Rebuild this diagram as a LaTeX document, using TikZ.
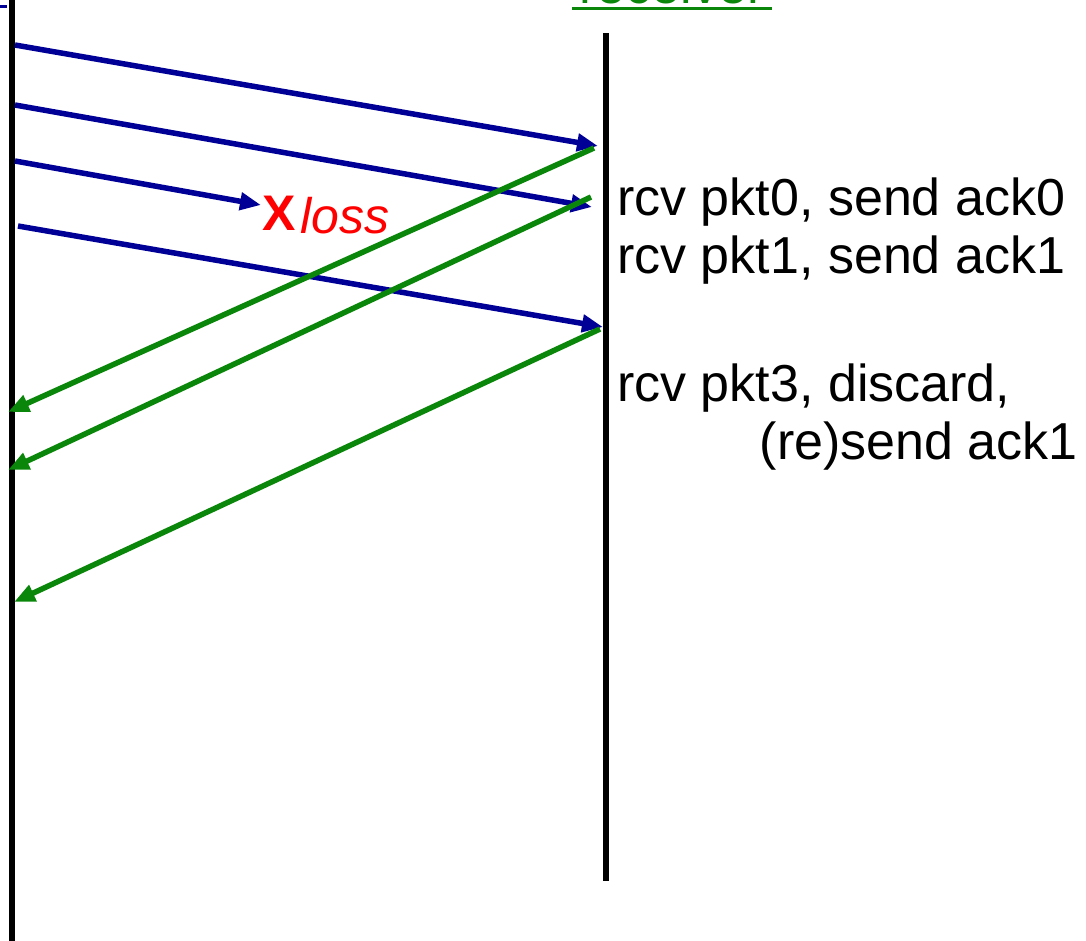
\documentclass[tikz,border=0pt]{standalone}
\usepackage{fontspec}
\setmainfont{Liberation Sans}
\usetikzlibrary{arrows.meta}
\definecolor{pktblue}{RGB}{0,0,150}
\definecolor{ackgreen}{RGB}{10,135,10}
\definecolor{lossred}{RGB}{255,0,0}
\begin{document}
\begin{tikzpicture}[x=1pt,y=-1pt,
  lifeline/.style={line width=5.5pt,black},
  pktmsg/.style={line width=5.5pt,pktblue,-{Triangle[length=21pt,width=17pt]}},
  ackmsg/.style={line width=5.5pt,ackgreen,-{Triangle[length=21pt,width=17pt]}},
  evtext/.style={anchor=base west,inner sep=0pt,font=\fontsize{52}{58}\selectfont},
  losstext/.style={anchor=base west,inner sep=0pt,text=lossred,font=\fontsize{50}{56}\selectfont}]
\useasboundingbox (0,0) rectangle (1086,940);

% lifelines
\coordinate (sTop) at (12,-5);
\coordinate (sBot) at (12,945);
\coordinate (rTop) at (606,33);
\coordinate (rBot) at (606,881);
\draw[lifeline] (sTop) -- (sBot);
\draw[lifeline] (rTop) -- (rBot);

% headings (mostly above the visible area)
\coordinate (sUl) at (-40,6);
\coordinate (sUr) at (7,6);
\draw[pktblue,line width=3pt] (sUl) -- (sUr);
\node[anchor=base,inner sep=0pt,text=ackgreen,font=\fontsize{52}{58}\selectfont] (recv) at (672,3) {receiver};
\coordinate (rUl) at (572,8);
\coordinate (rUr) at (772,8);
\draw[ackgreen,line width=3pt] (rUl) -- (rUr);

% packets sent
\coordinate (p0s) at (15,45);
\coordinate (p0r) at (598,146);
\coordinate (p1s) at (15,105);
\coordinate (p1r) at (592,207);
\coordinate (p2s) at (15,161);
\coordinate (p2x) at (261,205);
\coordinate (p3s) at (18,226);
\coordinate (p3r) at (603,327);
\draw[pktmsg] (p0s) -- (p0r);
\draw[pktmsg] (p1s) -- (p1r);
\draw[pktmsg] (p2s) -- (p2x);
\draw[pktmsg] (p3s) -- (p3r);

% acks returned
\coordinate (a0r) at (594,148);
\coordinate (a0s) at (8,412);
\coordinate (a1r) at (591,197);
\coordinate (a1s) at (8,470);
\coordinate (a2r) at (600,329);
\coordinate (a2s) at (14,602);
\draw[ackmsg] (a0r) -- (a0s);
\draw[ackmsg] (a1r) -- (a1s);
\draw[ackmsg] (a2r) -- (a2s);

% loss marker
\node[losstext,font=\fontsize{50}{56}\selectfont\bfseries] (lossx) at (262,230) {X};
\node[losstext] (loss) at (300,233) {\itshape loss};

% receiver events
\node[evtext] (ev0) at (617,215) {rcv pkt0, send ack0};
\node[evtext] (ev1) at (617,273) {rcv pkt1, send ack1};
\node[evtext] (ev3) at (617,401) {rcv pkt3, discard,};
\node[evtext,anchor=base east] (ev3b) at (1078,459) {(re)send ack1};
\end{tikzpicture}
\end{document}
